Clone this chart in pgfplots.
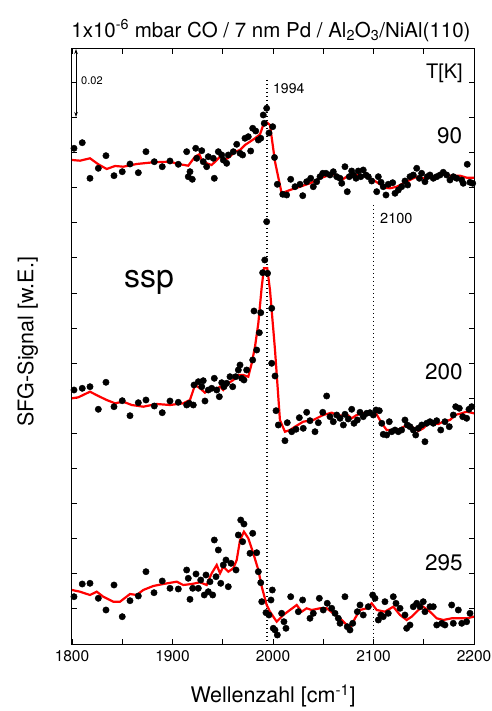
\documentclass[border=0pt]{standalone}
\usepackage{pgfplots}
\pgfplotsset{compat=1.18}
\usepackage{fontspec}
\setmainfont{TeX Gyre Heros}
\usetikzlibrary{arrows.meta}
\newcommand{\fs}[1]{\fontsize{#1bp}{#1bp}\selectfont}
\begin{document}
\begin{tikzpicture}
\useasboundingbox (-72bp,-67bp) rectangle (420bp,644bp);
\begin{axis}[
  scale only axis, width=402bp, height=595bp,
  xmin=1800, xmax=2200, ymin=0, ymax=595,
  xtick={1800,1850,...,2200},
  xticklabels={1800,,1900,,2000,,2100,,2200},
  ytick={35.1,70.2,105.3,140.4,175.5,210.6,245.7,280.8,315.9,351,386.1,421.2,456.3,491.4,526.5,561.6},
  yticklabels={},
  tick align=inside, major tick length=5bp,
  tick style={line width=0.9bp, black},
  axis line style={line width=1bp},
  xtick pos=both, ytick pos=both,
  /pgf/number format/assume math mode=true,
  xticklabel style={font=\fs{15.5}, yshift=-3bp},
  xlabel={Wellenzahl [cm\textsuperscript{-1}]},
  xlabel style={font=\fs{21.5}, at={(axis description cs:0.5,0)}, anchor=base, yshift=-58.7bp},
  ylabel={SFG-Signal [w.E.]},
  ylabel style={font=\fs{21.5}, at={(axis description cs:-0.096,0.508)}, anchor=base, rotate=0},
  clip=false,
]
% dotted reference lines
\addplot[black, dash pattern=on 1.4bp off 2.6bp, line width=1.4bp] coordinates {(1994,564) (1994,0)};
\addplot[black, dash pattern=on 1.4bp off 2.6bp, line width=1.4bp] coordinates {(2100,439) (2100,0)};

% ---------- 90 K ----------
\addplot[only marks, mark=*, mark size=3.2bp, black] coordinates {
(1802,495.7)(1810.2,501.3)(1817.9,465.7)(1826.2,475.7)(1833.8,488.3)(1841.8,468.3)(1850,472.3)(1857.7,480)
(1866,471.3)(1873.6,492.3)(1881.9,482.3)(1889.8,477.3)(1897.5,483)(1905.8,479.7)(1914.1,492.3)(1915.7,467.3)
(1917.4,472.3)(1919.7,464.7)(1923.1,495.7)(1924.1,485.7)(1929.1,493.3)(1930.6,482.3)(1934,477.3)(1935.6,487.3)
(1940.6,485.7)(1941.6,465.7)(1945.6,492.3)(1949,489)(1950.5,484)(1953.9,480.7)(1955.5,489)(1960.5,492.3)
(1963.9,499.7)(1967.2,490.7)(1969.8,489)(1972.1,505.7)(1975.4,507.3)(1977.8,493)(1979.8,515.7)(1982.8,513)
(1985.4,504)(1987.8,505.7)(1990.3,529)(1991.3,520.7)(1993.7,535.7)(1996,511)(1993.7,422.3)(1999.7,517.3)
(2001.5,486.5)(2004.3,459.7)(2009.7,449.7)(2013.6,449)(2017.6,464.7)(2021.9,457.3)(2026.9,459.7)(2029.6,448.3)
(2033.5,462.3)(2037.5,465.7)(2040.1,457.3)(2043.5,462.3)(2046.8,467.3)(2049.5,470.7)(2052.7,470.7)(2056.7,469)
(2060,472.3)(2063.4,467.3)(2066.7,465.7)(2068.4,460.7)(2071.6,477.3)(2073.9,452.3)(2075.9,467.3)(2078.3,473)
(2079.9,469)(2082.6,465.7)(2084.9,473)(2087.3,467.3)(2089.8,474)(2092.5,469)(2094.8,467.3)(2098.2,463)
(2103.2,452.3)(2104.8,467.3)(2107.5,461.7)(2109.7,457.3)(2112.4,449)(2114.7,459.7)(2119.1,461.3)(2121.4,450.7)
(2124.7,454)(2128,457.3)(2131.3,463)(2134,459)(2136.3,467.3)(2139.6,469)(2143,475.7)(2145.6,465.7)
(2147.9,470.7)(2151.2,462.3)(2153.5,467.3)(2156.2,469)(2159.5,465.7)(2162.9,467.3)(2166.2,469)(2169.4,471.7)
(2172.8,469)(2176.1,464)(2179.4,467.3)(2182.8,465.7)(2187.8,464)(2189.3,460.7)(2193.3,479.7)(2196,461.7)(2198.7,460.7)
};
\addplot[red, line width=2.2bp] coordinates {
(1800,484)(1808,483.3)(1817.9,485.7)(1826.2,479.7)(1834.5,475)(1842.8,478)(1851,477.3)(1864.4,480)
(1880.9,481.7)(1897.5,482.3)(1905.8,480)(1915.7,478.3)(1922.4,487.3)(1926.7,489.7)(1929.1,484)(1934,480.7)
(1939,479)(1944,484)(1947.3,487.3)(1952.2,484)(1957.2,487.3)(1962.2,492.3)(1967.2,494)(1972.1,499)
(1977.1,502.3)(1982.1,505.7)(1987.1,509.7)(1990.3,519)(1993.7,521.7)(1997,519)(2002,482.3)(2008.6,450.7)
(2016.9,454)(2026.9,457.3)(2036.8,460.7)(2046.8,465.7)(2058.4,469.7)(2063.4,469)(2068.4,464)(2073.3,467.3)
(2078.3,469.7)(2083.3,469)(2093.2,467.3)(2099.8,464)(2106.5,459.7)(2111.4,456.3)(2116.4,455.7)(2123.1,457.3)
(2129.6,460.7)(2136.3,464)(2143,467.3)(2149.5,465.7)(2156.2,466.3)(2162.9,467.3)(2169.4,469.7)(2177.8,468)
(2186.1,468.3)(2192.7,466.3)(2200,466.3)
};

% ---------- 200 K ----------
\addplot[only marks, mark=*, mark size=3.2bp, black] coordinates {
(1802,254)(1810.2,255.7)(1817.9,257.3)(1826.2,234.7)(1833.8,261.7)(1841.8,237.3)(1850,243.3)(1857.7,228.3)
(1866,241.3)(1873.6,244)(1881.9,238)(1889.8,231.3)(1897.5,243)(1905.8,241.7)(1914.1,239)(1916.7,240.7)
(1920.7,239)(1921.4,259)(1925.7,262.3)(1929.1,257.3)(1930.6,263.3)(1932.3,243)(1935.6,254)(1939,255.7)
(1941.6,265.7)(1944,254)(1946.6,247.3)(1949,261.3)(1951.2,257.3)(1953.9,260.7)(1957.2,267.3)(1959.9,257.3)
(1962.9,267.3)(1965.5,274)(1967.2,279)(1968.9,265.7)(1971.1,264)(1973.8,274)(1979.8,284)(1981.1,333)
(1983.8,294)(1986.4,311.3)(1987.8,331.3)(1989.7,371.3)(1991.8,384)(1994.6,370.7)(1998.7,335.7)(1998.7,280.7)
(2002,268)(2003,233.3)(2005.3,219)(2011.9,203.3)(2014.2,221.3)(2018.6,212.3)(2022.9,214.7)(2026.2,226.3)
(2030.1,215.7)(2033.5,231.7)(2036.8,223.3)(2041.8,212.3)(2045.1,221.3)(2049.5,231.7)(2053.4,248)(2056.7,227.3)
(2060,222.3)(2063.4,229)(2066.7,225.7)(2070,219)(2071.6,229.7)(2074.9,225)(2078.3,234.7)(2080.6,220.7)
(2083.9,224)(2086.6,231.7)(2089.8,227.3)(2093.2,230.7)(2096.5,231.3)(2099.8,229)(2102.5,234)(2105.8,233.3)
(2108.2,220.7)(2109.7,209.7)(2113.1,209)(2115.7,222.3)(2118.1,212.3)(2121.4,214)(2124.7,212.3)(2128,214)
(2131.3,224)(2133.6,219)(2136.3,217.3)(2139.6,214)(2142,209)(2144.6,215.7)(2148,219)(2151.2,202.3)
(2152.9,220.7)(2156.2,222.3)(2159.5,220.7)(2162.9,223.3)(2166.9,214)(2171.1,222.3)(2175.4,217.3)(2179.4,229)
(2181.8,237.3)(2185.4,235.7)(2188.8,227.3)(2192.7,225.7)(2195,234.7)(2197.7,237.3)
};
\addplot[red, line width=2.2bp] coordinates {
(1800,245.7)(1806.3,246.7)(1817.9,252.3)(1826.2,248)(1834.5,244)(1842.8,240.7)(1851,242.3)(1859.4,239)
(1870.9,237.3)(1884.3,240)(1897.5,239)(1910.7,240.7)(1917.4,244)(1922.4,259)(1927.4,255.7)(1932.3,251.3)
(1937.3,255.7)(1942.3,254)(1947.3,257.3)(1950.5,254)(1955.5,260.7)(1960.5,264)(1965.5,269)(1970.4,269)
(1975.4,267.3)(1978.8,280.7)(1982.1,297.3)(1985.4,320.7)(1988.8,357.3)(1991,375.7)(1994.3,375.7)(1997,354)
(2002,294)(2006.9,224)(2011.9,212.3)(2016.9,214)(2021.9,217.3)(2030.1,222.3)(2040.1,224)(2050,229)
(2058.4,231.3)(2063.4,229)(2068.4,228.3)(2073.3,229.7)(2078.3,225.7)(2083.3,229)(2089.8,230.7)(2096.5,230)
(2102.5,230.7)(2108.2,220.7)(2113.1,214)(2119.7,214)(2126.4,215)(2133,219)(2138,217.3)(2144.6,213)
(2149.5,215.7)(2154.5,220.7)(2159.5,220.7)(2164.5,220)(2169.4,222.3)(2176.1,224)(2181,229)(2187.7,230.7)
(2192.7,232.3)(2200,230.7)
};

% ---------- 295 K ----------
\addplot[only marks, mark=*, mark size=3.2bp, black] coordinates {
(1802,47.3)(1810.2,60)(1817.9,60.7)(1826.2,45.7)(1833.8,34)(1841.8,59)(1850,27.3)(1857.7,43.3)
(1866,48)(1873.6,72.3)(1881.6,51.3)(1889.8,63)(1897.5,55.7)(1905.8,55)(1914.1,74)(1915.7,65.7)
(1917.4,44.7)(1920.1,55.7)(1923.4,70)(1925.7,55.7)(1928.1,64)(1931.6,49)(1933.3,69)(1935.6,52.3)
(1937.3,62.3)(1940,49)(1941.6,104)(1943.3,67.3)(1945.6,94)(1948,60.7)(1950.5,79)(1953.2,84)
(1955.5,57.3)(1958.2,80.7)(1963.2,74)(1965.5,109)(1967.9,124)(1971.1,120)(1969.8,102.3)(1977.1,90.7)
(1979.8,110.7)(1983.8,91.3)(1985.4,72.3)(1987.8,61.3)(1988.8,42.3)(1993,31.3)(1996,29)(1998,44)
(1999.3,54)(2000.3,15.7)(2002,14)(2004.3,9)(2008.6,30.7)(2010.9,22.3)(2012.9,15.7)(2017.6,47.3)
(2025.2,32.3)(2029.5,44)(2036.8,25.7)(2040.1,30.7)(2046.1,45.7)(2050,34)(2054,40.7)(2058.4,35.7)
(2061.7,30.7)(2065,25.7)(2066.7,20.7)(2071.6,47.3)(2073.9,17.3)(2076.6,14)(2079.3,20.7)(2083.9,32.3)
(2086.6,39)(2089.8,29)(2094.8,37.3)(2099.2,49)(2101.5,45.7)(2104.8,24)(2107.2,29)(2109.7,27.3)
(2111.4,42.3)(2114.7,30.7)(2119.7,47.3)(2122.4,40.7)(2126.4,35.7)(2131.3,29)(2133,15.7)(2136.3,19)
(2139.6,37.3)(2143,40.7)(2146.3,37.3)(2149.5,42.3)(2151.2,32.3)(2156.2,37.3)(2159.5,37.3)(2162.9,19)
(2167.9,20.7)(2171.1,19)(2177.8,39)(2179.4,20.7)(2184.4,34)(2187.8,20.7)(2192.7,22.3)(2196,30.7)
};
\addplot[red, line width=2.2bp] coordinates {
(1800,54)(1808,52.3)(1817.9,49)(1824.6,52.3)(1831.1,47.3)(1841.1,42.3)(1847.8,42.3)(1857.7,50)
(1864.4,49)(1870.9,54)(1880.9,58)(1890.8,60)(1904.2,62.3)(1910.7,59)(1919.1,60)(1927.4,61.7)
(1934,59)(1939,70.7)(1944,79)(1947.3,70.7)(1950.5,77.3)(1955.5,72.3)(1960.5,75.7)(1963.9,84)
(1967.2,104)(1971.1,112.3)(1975.4,105.7)(1980.4,90.7)(1985.4,74)(1988.8,57.3)(1993.7,39)(1997,32.3)
(2003.7,22.3)(2010.2,29)(2016.9,34)(2023.6,39)(2028.5,32.3)(2033.5,35.7)(2038.5,34)(2046.8,35.7)
(2053.4,35.7)(2060,30.7)(2068.4,24)(2076.6,15.7)(2081.6,25.7)(2086.6,34)(2093.2,35.7)(2098.2,40.7)
(2103.2,34)(2111.4,32.3)(2119.7,37.3)(2126.4,29)(2133,24)(2138,27.3)(2144.6,34)(2149.5,37.3)
(2156.2,32.3)(2162.9,25.7)(2169.4,24)(2177.8,25.7)(2186.1,25.7)(2192.7,25.7)(2200,27.3)
};

% scale bar
\draw[{Stealth[length=5bp,width=3.5bp]}-{Stealth[length=5bp,width=3.5bp]}, line width=0.8bp]
  (axis cs:1804,595) -- (axis cs:1804,527);
\node[anchor=west, font=\fs{11}, inner sep=0] at (axis cs:1809,563) {0.02};

% annotations
\node[anchor=west, font=\fs{14}, inner sep=0] at (axis cs:2000,555) {1994};
\node[anchor=west, font=\fs{14.5}, inner sep=0] at (axis cs:2106.5,426) {2100};
\node[anchor=east, font=\fs{20}, inner sep=0] at (axis cs:2189,571) {T[K]};
\node[anchor=east, font=\fs{22.5}, inner sep=0] at (axis cs:2188.5,508) {90};
\node[anchor=east, font=\fs{22.5}, inner sep=0] at (axis cs:2189,272) {200};
\node[anchor=east, font=\fs{22.5}, inner sep=0] at (axis cs:2189,81) {295};
\node[font=\fs{32}, inner sep=0] at (axis cs:1876.6,362) {ssp};

% title
\node[anchor=base, font=\fs{20.5}, inner sep=0] at (axis description cs:0.495,1) [yshift=11.5bp]
  {1x10\textsuperscript{-6} mbar CO / 7 nm Pd / Al\textsubscript{2}O\textsubscript{3}/NiAl(110)};
\end{axis}
\end{tikzpicture}
\end{document}
